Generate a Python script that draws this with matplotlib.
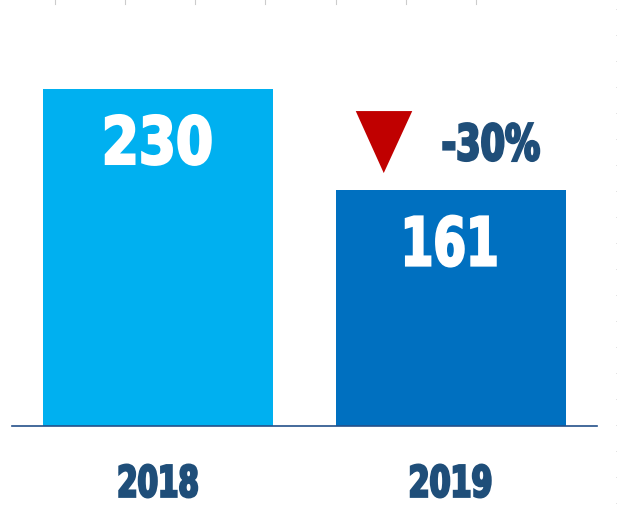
import matplotlib
matplotlib.use('Agg')
import matplotlib.pyplot as plt
import matplotlib.transforms as mtransforms
from matplotlib.textpath import TextPath
from matplotlib.font_manager import FontProperties
from matplotlib.patches import PathPatch, Polygon
from matplotlib.lines import Line2D

years = ['2018', '2019']
values = [230, 161]
bar_colors = ['#00B0F0', '#0070C0']
change_label = '-30%'

text_blue = '#1F4E79'
W, H = 617, 514
fig = plt.figure(figsize=(W / 100, H / 100), dpi=100)
# axes: x from 12px to 597px, baseline at 426px (from top)
ax = fig.add_axes([12 / W, (H - 426) / H, 585 / W, 426 / H])

x = range(len(years))
ax.bar(x, values, width=0.786, color=bar_colors, zorder=2)
ax.set_xlim(-0.5, 1.5)
ax.set_ylim(0, 290.7)

for s in ['top', 'right', 'left']:
    ax.spines[s].set_visible(False)
ax.spines['bottom'].set_color('#24508a')
ax.spines['bottom'].set_linewidth(1.2)
ax.set_yticks([])
ax.set_xticks([])

prop = FontProperties(family='DejaVu Sans', weight='bold')
stroke = 1.8  # points, thickens the glyphs toward an Impact-like weight
pad = stroke * 100 / 72


def fitted_text(s, xd, yd, dx, dy, w, h, color):
    # draw s with its ink box about w x h pixels, centred dx, dy pixels from (xd, yd)
    tp = TextPath((0, 0), s, size=100, prop=prop)
    ext = tp.get_extents()
    cx = (ext.x0 + ext.x1) / 2
    cy = (ext.y0 + ext.y1) / 2
    tr = (mtransforms.Affine2D().translate(-cx, -cy)
          .scale((w - pad) / ext.width, (h - pad) / ext.height).translate(dx, dy)
          + mtransforms.ScaledTranslation(xd, yd, ax.transData))
    ax.add_patch(PathPatch(tp, transform=tr, facecolor=color,
                           edgecolor=color, linewidth=stroke, zorder=4,
                           joinstyle='miter', clip_on=False))


label_sizes = [(107, 52), (92, 53)]
for i, v in enumerate(values):
    w, h = label_sizes[i]
    fitted_text(str(v), i, v, 0, -51, w, h, 'white')

year_sizes = [(80, 35), (82, 35)]
for i, yr in enumerate(years):
    w, h = year_sizes[i]
    fitted_text(yr, i, 0, 0, -55, w, h, text_blue)

# change marker and label, placed relative to the 2019 bar top
tri = Polygon([[-95, 79], [-38.5, 79], [-67, 17]], closed=True,
              facecolor='#C00000', edgecolor='none', zorder=3, clip_on=False,
              transform=mtransforms.ScaledTranslation(1, values[1], ax.transData))
ax.add_patch(tri)
fitted_text(change_label, 1, values[1], 40.5, 48, 98, 40, text_blue)

# faint edge ticks
for xp in [54.7, 125, 195.3, 265.3, 335.7, 406, 476.3]:
    fig.add_artist(Line2D([xp / W, xp / W], [1, 1 - 4 / H], color='#cccccc', lw=0.8))
for k in range(20):
    yp = 9.3 + 26 * k
    fig.add_artist(Line2D([615.5 / W, 617 / W], [1 - yp / H] * 2, color='#e2e2e2', lw=0.7))

fig.savefig('out.png', dpi=100, facecolor='white')
